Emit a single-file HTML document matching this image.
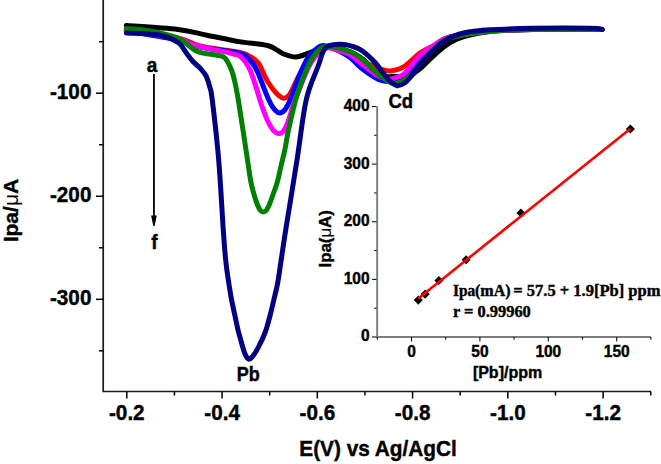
<!DOCTYPE html>
<html><head><meta charset="utf-8"><style>
html,body{margin:0;padding:0;background:#fff;width:661px;height:464px;overflow:hidden}
svg{display:block}
text{font-family:"Liberation Sans",sans-serif;font-weight:bold;fill:#000;stroke:#000;stroke-width:0.4px}
.serif text,text.serif{font-family:"Liberation Serif",serif}
</style></head><body>
<svg width="661" height="464" viewBox="0 0 661 464">
<rect width="661" height="464" fill="#fff"/>
<g stroke="#000" stroke-width="1.5" fill="none">
<polyline points="103.2,0 103.2,391.5 651,391.5" stroke="#1a1a1a" stroke-width="1.7"/>
<line x1="126.80" y1="391.5" x2="126.80" y2="398.5"/>
<line x1="174.43" y1="391.5" x2="174.43" y2="395.5"/>
<line x1="222.06" y1="391.5" x2="222.06" y2="398.5"/>
<line x1="269.69" y1="391.5" x2="269.69" y2="395.5"/>
<line x1="317.32" y1="391.5" x2="317.32" y2="398.5"/>
<line x1="364.95" y1="391.5" x2="364.95" y2="395.5"/>
<line x1="412.58" y1="391.5" x2="412.58" y2="398.5"/>
<line x1="460.21" y1="391.5" x2="460.21" y2="395.5"/>
<line x1="507.84" y1="391.5" x2="507.84" y2="398.5"/>
<line x1="555.47" y1="391.5" x2="555.47" y2="395.5"/>
<line x1="603.10" y1="391.5" x2="603.10" y2="398.5"/>
<line x1="650.73" y1="391.5" x2="650.73" y2="395.5"/>
<line x1="99" y1="41.68" x2="103.2" y2="41.68"/>
<line x1="96" y1="93.20" x2="103.2" y2="93.20"/>
<line x1="99" y1="144.72" x2="103.2" y2="144.72"/>
<line x1="96" y1="196.25" x2="103.2" y2="196.25"/>
<line x1="99" y1="247.77" x2="103.2" y2="247.77"/>
<line x1="96" y1="299.30" x2="103.2" y2="299.30"/>
<line x1="99" y1="350.82" x2="103.2" y2="350.82"/>
</g>
<text transform="translate(126.80 419.60) scale(1 1.110)" font-size="20.7" text-anchor="middle">-0.2</text>
<text transform="translate(222.06 419.60) scale(1 1.110)" font-size="20.7" text-anchor="middle">-0.4</text>
<text transform="translate(317.32 419.60) scale(1 1.110)" font-size="20.7" text-anchor="middle">-0.6</text>
<text transform="translate(412.58 419.60) scale(1 1.110)" font-size="20.7" text-anchor="middle">-0.8</text>
<text transform="translate(507.84 419.60) scale(1 1.110)" font-size="20.7" text-anchor="middle">-1.0</text>
<text transform="translate(603.10 419.60) scale(1 1.110)" font-size="20.7" text-anchor="middle">-1.2</text>
<text transform="translate(91.40 98.80) scale(1 1.110)" font-size="20.7" text-anchor="end">-100</text>
<text transform="translate(91.40 201.85) scale(1 1.110)" font-size="20.7" text-anchor="end">-200</text>
<text transform="translate(91.40 304.90) scale(1 1.110)" font-size="20.7" text-anchor="end">-300</text>
<text transform="translate(299.30 456.00) scale(1 1.060)" font-size="20.8" text-anchor="start">E(V) vs Ag/AgCl</text>
<text transform="translate(17.9 242.3) rotate(-90)" font-size="21">Ipa/<tspan font-weight="normal" style="stroke-width:0">&#956;</tspan>A</text>
<g fill="none" stroke-linecap="round" stroke-linejoin="round" stroke-width="5.0">
<path d="M126.3,25.5 C134.9,26.1 164.6,27.8 178.0,29.4 C191.4,31.0 196.9,33.2 207.0,35.2 C217.1,37.2 228.7,39.9 238.8,41.6 C249.0,43.3 260.5,43.5 267.9,45.5 C275.3,47.5 278.3,51.8 283.0,53.7 C287.7,55.6 291.6,57.1 295.9,57.0 C300.2,56.9 304.9,54.3 308.8,53.0 C312.8,51.7 315.2,49.9 319.6,49.0 C324.0,48.1 329.6,46.9 335.0,47.5 C340.4,48.1 347.4,50.6 352.0,52.5 C356.6,54.4 358.7,56.1 362.5,59.0 C366.3,61.9 371.2,67.2 375.0,70.0 C378.8,72.8 381.7,74.9 385.0,76.0 C388.3,77.1 391.2,76.5 395.0,76.5 C398.8,76.5 403.8,77.3 408.0,76.0 C412.2,74.7 415.7,72.2 420.3,68.5 C424.9,64.8 430.4,58.3 435.4,54.0 C440.3,49.7 445.0,45.5 450.0,42.5 C455.0,39.5 458.9,37.8 465.6,36.0 C472.3,34.2 478.8,32.6 490.0,31.5 C501.2,30.4 514.3,29.8 533.0,29.5 C551.7,29.2 590.5,29.5 602.0,29.5" stroke="#000000"/>
<path d="M126.3,30.0 C134.9,31.3 165.7,35.3 178.0,38.0 C190.3,40.7 189.7,43.6 200.0,46.0 C210.3,48.4 231.5,50.8 239.7,52.5 C247.9,54.2 246.8,55.1 249.4,56.3 C252.0,57.5 253.3,58.4 255.0,59.8 C256.7,61.2 258.0,62.3 259.5,64.8 C261.0,67.2 262.6,71.6 264.0,74.5 C265.4,77.4 266.2,79.3 267.9,82.0 C269.6,84.7 272.2,88.3 274.0,90.5 C275.8,92.7 276.9,93.9 278.5,95.2 C280.1,96.5 281.7,98.1 283.4,98.2 C285.1,98.3 287.1,97.2 288.6,95.7 C290.1,94.2 291.3,91.4 292.5,89.0 C293.7,86.6 294.5,84.5 296.0,81.5 C297.5,78.5 299.2,75.2 301.5,71.0 C303.8,66.8 306.4,59.9 310.0,56.0 C313.6,52.1 318.0,48.3 323.0,47.5 C328.0,46.7 332.8,48.4 340.0,51.0 C347.2,53.6 359.1,60.0 366.0,63.0 C372.9,66.0 377.1,67.9 381.4,69.2 C385.7,70.5 387.8,71.3 391.7,70.8 C395.6,70.3 400.3,69.0 405.0,66.0 C409.7,63.0 415.0,56.5 420.0,53.0 C425.0,49.5 430.0,47.6 435.0,45.0 C440.0,42.4 440.8,39.8 450.0,37.5 C459.2,35.2 476.2,32.3 490.0,31.0 C503.8,29.7 514.3,29.8 533.0,29.5 C551.7,29.2 590.5,29.5 602.0,29.5" stroke="#ff0000"/>
<path d="M126.3,31.0 C134.9,32.5 165.7,37.3 178.0,40.0 C190.3,42.7 189.7,44.8 200.0,47.0 C210.3,49.2 231.5,51.4 239.7,53.5 C247.9,55.6 246.7,57.2 249.4,59.8 C252.1,62.3 253.9,64.9 256.0,68.8 C258.1,72.7 260.1,78.3 262.0,83.0 C263.9,87.7 265.7,92.9 267.5,97.0 C269.3,101.1 271.1,104.9 273.0,107.5 C274.9,110.1 276.9,112.4 278.9,112.8 C280.8,113.2 282.9,112.0 284.7,110.0 C286.5,108.0 288.2,104.3 289.9,100.5 C291.6,96.7 293.3,91.5 295.0,87.0 C296.7,82.5 297.9,78.6 300.2,73.5 C302.5,68.4 305.8,60.8 308.8,56.5 C311.8,52.2 315.4,49.3 318.0,47.5 C320.6,45.7 320.8,44.9 324.5,45.6 C328.2,46.3 335.8,49.5 340.0,51.5 C344.2,53.5 346.2,54.6 350.0,57.5 C353.8,60.4 358.3,65.7 362.5,69.0 C366.7,72.3 371.8,75.6 375.0,77.5 C378.2,79.4 379.5,79.8 382.0,80.5 C384.5,81.2 387.3,81.6 390.0,81.5 C392.7,81.4 395.5,80.6 398.0,80.0 C400.5,79.4 401.3,81.3 405.0,78.0 C408.7,74.7 415.0,65.4 420.0,60.0 C425.0,54.6 430.0,49.3 435.0,45.5 C440.0,41.7 440.8,39.4 450.0,37.0 C459.2,34.6 476.2,32.2 490.0,31.0 C503.8,29.8 514.3,29.8 533.0,29.5 C551.7,29.2 590.5,29.5 602.0,29.5" stroke="#0000ff"/>
<path d="M126.3,30.0 C134.9,31.5 166.8,36.5 178.0,39.0 C189.2,41.5 184.7,42.6 193.7,45.0 C202.7,47.4 223.9,51.3 232.0,53.5 C240.1,55.7 239.0,55.2 242.0,58.0 C245.0,60.8 247.7,65.2 250.0,70.0 C252.3,74.8 254.1,81.2 256.0,87.0 C257.9,92.8 259.6,99.4 261.5,105.0 C263.4,110.6 265.6,116.3 267.5,120.5 C269.4,124.7 271.2,127.8 273.0,130.0 C274.8,132.2 276.8,133.3 278.5,133.5 C280.2,133.7 281.8,133.2 283.5,131.0 C285.2,128.8 286.9,124.7 288.6,120.0 C290.3,115.3 292.1,108.0 293.8,103.0 C295.5,98.0 296.1,96.8 299.0,90.0 C301.9,83.2 306.7,69.5 311.2,62.5 C315.7,55.5 321.2,49.9 326.0,48.0 C330.8,46.1 336.0,49.9 340.0,51.0 C344.0,52.1 346.2,52.5 350.0,54.7 C353.8,57.0 358.3,61.3 362.5,64.5 C366.7,67.7 371.4,71.8 375.0,74.0 C378.6,76.2 381.3,77.2 384.0,78.0 C386.7,78.8 388.7,79.2 391.0,79.0 C393.3,78.8 395.7,78.0 398.0,77.0 C400.3,76.0 401.3,76.6 405.0,73.0 C408.7,69.4 415.0,60.2 420.0,55.5 C425.0,50.8 430.0,47.6 435.0,44.5 C440.0,41.4 440.8,39.2 450.0,37.0 C459.2,34.8 476.2,32.2 490.0,31.0 C503.8,29.8 514.3,29.8 533.0,29.5 C551.7,29.2 590.5,29.5 602.0,29.5" stroke="#ff00ff"/>
<path d="M126.3,28.4 C130.2,28.8 141.4,29.4 150.0,31.0 C158.6,32.6 170.1,34.9 178.0,38.3 C185.9,41.7 191.0,48.7 197.5,51.5 C204.0,54.3 212.4,54.1 217.0,55.2 C221.6,56.3 222.7,55.7 225.0,58.0 C227.3,60.3 229.4,65.1 231.0,68.8 C232.6,72.5 233.2,74.8 234.4,80.0 C235.6,85.2 236.1,86.7 238.3,100.0 C240.5,113.3 245.4,146.2 247.5,160.0 C249.6,173.8 249.8,176.5 251.0,182.5 C252.2,188.5 253.4,192.2 254.5,196.0 C255.6,199.8 256.5,202.6 257.5,205.0 C258.5,207.4 259.5,209.3 260.5,210.5 C261.5,211.7 262.4,212.0 263.3,212.0 C264.2,212.0 265.2,211.7 266.2,210.5 C267.2,209.3 268.1,207.4 269.2,205.0 C270.2,202.6 271.2,199.8 272.5,196.0 C273.8,192.2 275.8,187.3 277.2,182.5 C278.6,177.7 279.5,172.6 280.8,167.0 C282.1,161.4 283.7,155.2 285.0,149.0 C286.3,142.8 286.7,138.2 288.5,130.0 C290.3,121.8 293.3,108.3 295.6,100.0 C297.9,91.7 299.7,86.7 302.3,80.0 C304.9,73.3 308.1,65.2 311.0,60.0 C313.9,54.8 317.2,51.3 320.0,49.0 C322.8,46.7 324.2,46.1 327.5,46.0 C330.8,45.9 335.8,47.4 340.0,48.6 C344.2,49.8 349.1,51.2 352.9,53.0 C356.6,54.8 358.8,56.5 362.5,59.5 C366.2,62.5 371.2,68.0 375.0,71.3 C378.8,74.5 381.6,77.0 385.0,79.0 C388.4,81.0 391.1,84.2 395.6,83.5 C400.1,82.8 407.9,77.8 412.0,74.5 C416.1,71.2 416.2,68.4 420.0,64.0 C423.8,59.6 430.0,52.3 435.0,48.0 C440.0,43.7 440.8,40.8 450.0,38.0 C459.2,35.2 476.2,32.4 490.0,31.0 C503.8,29.6 514.3,29.8 533.0,29.5 C551.7,29.2 590.5,29.5 602.0,29.5" stroke="#008000"/>
<path d="M126.3,33.0 C131.8,33.3 150.4,33.4 159.0,35.0 C167.6,36.6 173.5,39.6 178.0,42.5 C182.5,45.4 183.5,49.3 186.0,52.5 C188.5,55.7 190.8,59.0 193.0,61.5 C195.2,64.0 197.4,65.2 199.5,67.5 C201.6,69.8 204.1,72.4 205.8,75.5 C207.5,78.6 208.4,81.9 209.5,86.0 C210.6,90.1 210.8,87.7 212.3,100.0 C213.8,112.3 216.9,138.3 218.7,160.0 C220.5,181.7 222.1,213.0 223.3,230.0 C224.5,247.0 224.7,251.2 225.9,262.0 C227.1,272.8 229.2,286.0 230.7,295.0 C232.2,304.0 233.8,310.2 235.0,316.0 C236.2,321.8 237.1,326.2 238.0,330.0 C238.9,333.8 239.7,336.0 240.5,339.0 C241.3,342.0 242.2,345.3 243.0,348.0 C243.8,350.7 244.5,353.1 245.5,355.0 C246.5,356.9 247.8,359.1 249.0,359.3 C250.2,359.6 251.3,357.8 252.5,356.5 C253.7,355.2 254.8,353.4 256.0,351.5 C257.2,349.6 258.3,347.4 259.5,345.0 C260.7,342.6 262.1,339.9 263.3,337.0 C264.5,334.1 265.7,331.2 266.8,327.5 C267.9,323.8 269.0,319.6 270.2,315.0 C271.4,310.4 272.6,305.2 273.8,300.0 C275.0,294.8 276.3,290.3 277.5,284.0 C278.7,277.7 279.5,271.0 280.9,262.0 C282.3,253.0 283.0,247.0 285.7,230.0 C288.4,213.0 293.6,181.7 297.0,160.0 C300.4,138.3 302.7,115.7 306.2,100.0 C309.7,84.3 315.0,74.7 318.2,66.0 C321.4,57.3 321.8,51.6 325.4,48.0 C329.0,44.4 335.4,44.5 340.0,44.3 C344.6,44.0 349.1,45.4 352.9,46.5 C356.6,47.6 358.8,48.3 362.5,51.0 C366.2,53.7 371.2,58.4 375.0,62.5 C378.8,66.6 382.3,72.2 385.0,75.5 C387.7,78.8 389.0,80.3 391.0,82.0 C393.0,83.7 394.7,85.5 397.0,85.7 C399.3,85.9 402.0,84.8 404.6,83.0 C407.2,81.2 409.8,78.1 412.4,75.0 C415.0,71.9 416.5,69.0 420.3,64.5 C424.1,60.0 430.4,52.5 435.4,48.0 C440.4,43.5 445.5,40.1 450.5,37.5 C455.5,34.9 459.0,33.8 465.6,32.5 C472.2,31.2 478.8,30.5 490.0,29.8 C501.2,29.1 516.3,28.6 533.0,28.3 C549.7,28.1 578.5,28.1 590.0,28.3 C601.5,28.5 600.0,29.1 602.0,29.3" stroke="#000080"/>
</g>
<text transform="translate(152.00 71.60) scale(1 1.100)" font-size="19" text-anchor="middle">a</text>
<text transform="translate(154.30 248.90) scale(1 1.050)" font-size="19" text-anchor="middle">f</text>
<line x1="153.95" y1="74" x2="153.95" y2="217" stroke="#000" stroke-width="1.8"/>
<path d="M151.1,215.6 L156.8,215.6 L154.6,225.9 L153.3,225.9 Z" fill="#000" stroke="none"/>
<text transform="translate(248.30 381.40) scale(1 1.080)" font-size="18" text-anchor="middle">Pb</text>
<text transform="translate(400.70 107.50) scale(1 1.100)" font-size="18.5" text-anchor="middle">Cd</text>
<g fill="none">
<polyline points="377.15,106.5 377.15,337 651,337" stroke="#7c7c7c" stroke-width="1.9"/>
<g stroke="#111" stroke-width="1.1">
<line x1="377.30" y1="337.0" x2="377.30" y2="339.7"/>
<line x1="411.50" y1="337.0" x2="411.50" y2="341.6"/>
<line x1="445.70" y1="337.0" x2="445.70" y2="339.7"/>
<line x1="479.90" y1="337.0" x2="479.90" y2="341.6"/>
<line x1="514.10" y1="337.0" x2="514.10" y2="339.7"/>
<line x1="548.30" y1="337.0" x2="548.30" y2="341.6"/>
<line x1="582.50" y1="337.0" x2="582.50" y2="339.7"/>
<line x1="616.70" y1="337.0" x2="616.70" y2="341.6"/>
<line x1="650.90" y1="337.0" x2="650.90" y2="339.7"/>
<line x1="372" y1="337.00" x2="376.5" y2="337.00"/>
<line x1="374.2" y1="308.19" x2="376.5" y2="308.19"/>
<line x1="372" y1="279.38" x2="376.5" y2="279.38"/>
<line x1="374.2" y1="250.56" x2="376.5" y2="250.56"/>
<line x1="372" y1="221.75" x2="376.5" y2="221.75"/>
<line x1="374.2" y1="192.94" x2="376.5" y2="192.94"/>
<line x1="372" y1="164.12" x2="376.5" y2="164.12"/>
<line x1="374.2" y1="135.31" x2="376.5" y2="135.31"/>
<line x1="372" y1="106.50" x2="376.5" y2="106.50"/>
</g>
</g>
<text transform="translate(411.50 356.60) scale(1 1.100)" font-size="15.5" text-anchor="middle">0</text>
<text transform="translate(479.90 356.60) scale(1 1.100)" font-size="15.5" text-anchor="middle">50</text>
<text transform="translate(548.30 356.60) scale(1 1.100)" font-size="15.5" text-anchor="middle">100</text>
<text transform="translate(616.70 356.60) scale(1 1.100)" font-size="15.5" text-anchor="middle">150</text>
<text transform="translate(369.50 341.40) scale(1 1.100)" font-size="15.5" text-anchor="end">0</text>
<text transform="translate(369.50 283.77) scale(1 1.100)" font-size="15.5" text-anchor="end">100</text>
<text transform="translate(369.50 226.15) scale(1 1.100)" font-size="15.5" text-anchor="end">200</text>
<text transform="translate(369.50 168.53) scale(1 1.100)" font-size="15.5" text-anchor="end">300</text>
<text transform="translate(369.50 110.90) scale(1 1.100)" font-size="15.5" text-anchor="end">400</text>
<text transform="translate(507.50 377.50) scale(1 1.050)" font-size="16" text-anchor="middle">[Pb]/ppm</text>
<text transform="translate(330.9 267.4) rotate(-90)" font-size="16.8">Ipa(<tspan font-weight="normal" style="stroke-width:0">&#956;</tspan>A)</text>
<g fill="#000">
<rect x="415.1" y="296.9" width="6.4" height="6.4" transform="rotate(45 418.3 300.1)"/>
<rect x="422.0" y="290.9" width="6.4" height="6.4" transform="rotate(45 425.2 294.1)"/>
<rect x="435.7" y="277.3" width="6.4" height="6.4" transform="rotate(45 438.9 280.5)"/>
<rect x="463.0" y="256.6" width="6.4" height="6.4" transform="rotate(45 466.2 259.8)"/>
<rect x="517.7" y="209.9" width="6.4" height="6.4" transform="rotate(45 520.9 213.1)"/>
<rect x="627.2" y="125.8" width="6.4" height="6.4" transform="rotate(45 630.4 129.0)"/>
</g>
<line x1="418.3" y1="298.4" x2="630.4" y2="128.7" stroke="#ff0000" stroke-width="2.6"/>
<g class="serif" font-size="16.8">
<text transform="translate(453 295.8) scale(0.92 1)">Ipa</text>
<text x="475" y="295.8" font-size="16">(mA)</text>
<text x="513.3" y="295.8" font-size="16.5">= 57.5 + 1.9[Pb] ppm</text>
<text x="453" y="316.7" font-size="16.4">r = 0.99960</text>
</g>
</svg>
</body></html>
